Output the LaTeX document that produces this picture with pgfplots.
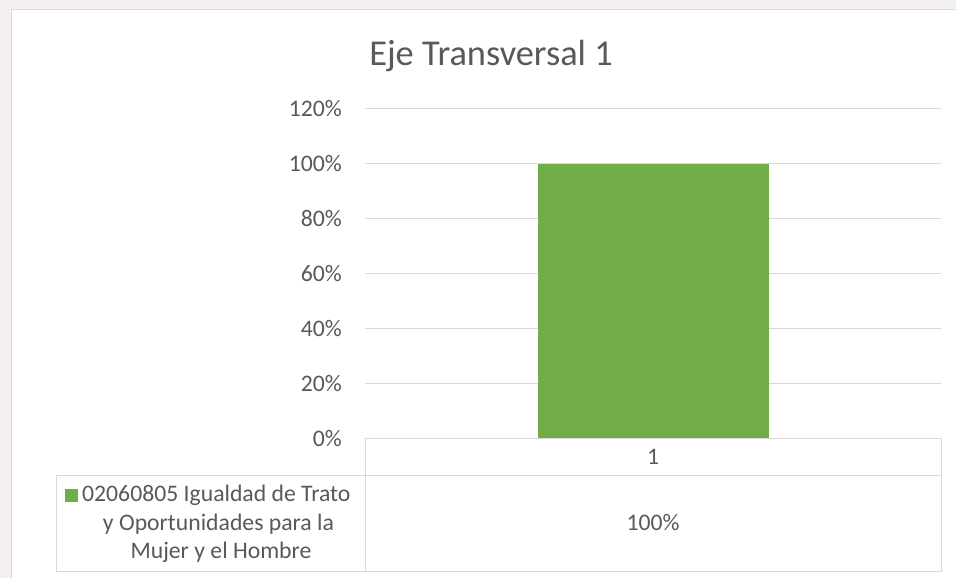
\documentclass[border=0pt]{standalone}
\usepackage{fontspec}
\setmainfont{Carlito}
\usepackage{pgfplots}
\pgfplotsset{compat=1.18}

\definecolor{txt}{HTML}{595959}
\definecolor{gridc}{HTML}{D9D9D9}
\definecolor{barg}{HTML}{70AD47}
\definecolor{wm}{HTML}{F3F0EF}

\begin{document}
\begin{tikzpicture}
\begin{scope}[x=1pt,y=1pt]
% page: 956 x 578 (y counted from bottom)
\path[use as bounding box] (0,0) rectangle (956,578);
\fill[wm] (0,0) rectangle (956,578);
\fill[white] (11,0) rectangle (956,568);
\draw[gridc, line width=1pt] (11,0) -- (11,568) -- (956,568);
\end{scope}

\begin{axis}[
  at={(365pt,139pt)}, anchor=south west,
  width=576pt, height=330pt, scale only axis,
  xmin=0, xmax=1, ymin=0, ymax=1.2,
  hide x axis,
  y axis line style={draw=none},
  ytick={0,0.2,0.4,0.6,0.8,1.0,1.2},
  yticklabels={0\%,20\%,40\%,60\%,80\%,100\%,120\%},
  ytick style={draw=none},
  yticklabel style={anchor=east, inner sep=0pt, xshift=-23pt,
    text=txt, font=\fontsize{23.7}{28}\selectfont},
  ymajorgrids, grid style={draw=gridc, line width=1pt},
  clip=false]
\addplot[ybar, fill=barg, draw=none, bar width=231pt, bar shift=0pt]
  coordinates {(0.5,1.0)};
\end{axis}

\begin{scope}[x=1pt,y=1pt]
% title
\node[anchor=base, text=txt, font=\fontsize{36.4}{40}\selectfont, inner sep=0pt]
  at (491,512) {Eje Transversal 1};

% data table
\draw[gridc, line width=1pt] (365,139) -- (941,139) -- (941,6) -- (56,6) -- (56,102) -- (941,102);
\draw[gridc, line width=1pt] (365,139) -- (365,6);
\node[anchor=base, text=txt, font=\fontsize{23.7}{28}\selectfont, inner sep=0pt]
  at (653,113) {1};
\node[anchor=base, text=txt, font=\fontsize{23.7}{28}\selectfont, inner sep=0pt]
  at (653,47) {100\%};
\fill[barg] (65,76) rectangle (78,89);
\node[anchor=base west, text=txt, font=\fontsize{23.7}{28}\selectfont, inner sep=0pt]
  at (82,76) {02060805 Igualdad de Trato};
\node[anchor=base, text=txt, font=\fontsize{23.7}{28}\selectfont, inner sep=0pt]
  at (218.5,47) {y Oportunidades para la};
\node[anchor=base, text=txt, font=\fontsize{23.7}{28}\selectfont, inner sep=0pt]
  at (221,19) {Mujer y el Hombre};
\end{scope}
\end{tikzpicture}
\end{document}
